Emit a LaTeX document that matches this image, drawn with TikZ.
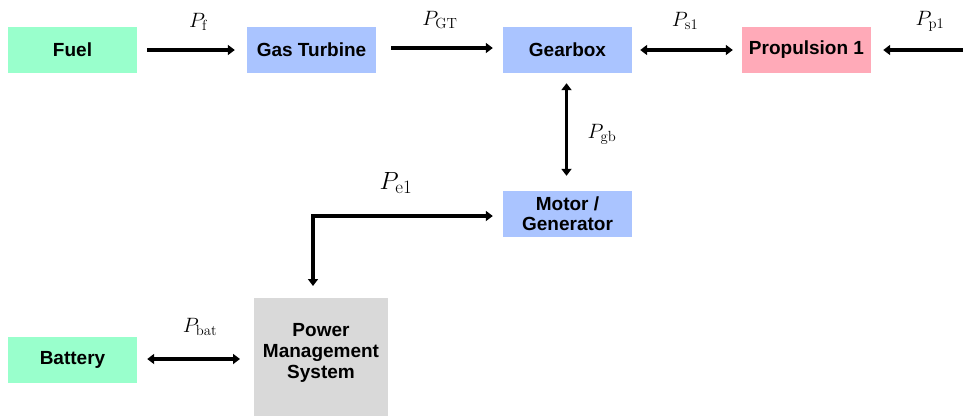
\documentclass[tikz,border=0pt]{standalone}
\usepackage{fontspec}
\setsansfont{Liberation Sans}
\usetikzlibrary{arrows.meta}
\definecolor{mint}{HTML}{99FFCC}
\definecolor{lblue}{HTML}{AAC4FF}
\definecolor{lpink}{HTML}{FFAAB8}
\definecolor{lgray}{HTML}{D9D9D9}
\tikzset{
  blk/.style={minimum width=129pt, minimum height=46pt, inner sep=0pt, font=\sffamily\bfseries\fontsize{19}{21}\selectfont, align=center},
  flow/.style={line width=3.6pt, -{Triangle[length=7pt,width=10pt]}},
  bflow/.style={line width=3.6pt, {Triangle[length=7pt,width=10pt]}-{Triangle[length=7pt,width=10pt]}},
  lbl/.style={font=\fontsize{21}{23}\selectfont, inner sep=0pt}
}
\begin{document}
\begin{tikzpicture}[x=1pt,y=-1pt]
\useasboundingbox (0,0) rectangle (963,416);
\node[blk, fill=mint] (fuel) at (72.5,50) {Fuel};
\node[blk, fill=lblue] (gt) at (311.5,50) {Gas Turbine};
\node[blk, fill=lblue] (gb) at (567.5,50) {Gearbox};
\node[blk, fill=lpink] (prop) at (806.5,50) {Propulsion 1};
\node[blk, fill=lblue] (mg) at (567.5,214) {Motor /\\[-1pt]Generator};
\node[blk, fill=mint] (bat) at (72.5,360) {Battery};
\fill[lgray] (254,298) rectangle (388,416);
\node[blk, minimum width=134pt, minimum height=118pt, anchor=north west] (pms) at (254,298) {};
\node[font=\sffamily\bfseries\fontsize{19}{21}\selectfont, align=center] at (321,353) {Power\\Management\\System};
\coordinate (rin) at (963,50);
\coordinate (corner) at (313,216);

\draw[flow] ([xshift=10pt]fuel.east) -- ([xshift=-12pt]gt.west);
\draw[flow] ([xshift=15pt,yshift=2pt]gt.east) -- ([xshift=-10pt,yshift=2pt]gb.west);
\draw[bflow] ([xshift=8pt]gb.east) -- ([xshift=-9pt]prop.west);
\draw[flow] (rin) -- ([xshift=12pt]prop.east);
\draw[bflow] ([xshift=-1pt,yshift=-10pt]gb.south) -- ([xshift=-1pt,yshift=15pt]mg.north);
\draw[bflow] ([yshift=12pt]pms.north -| corner) |- ([xshift=-10pt,yshift=-2pt]mg.west);
\draw[bflow] ([xshift=10pt,yshift=1pt]bat.east) -- ([xshift=-14pt,yshift=1pt]pms.west |- bat.east);

\node[lbl] (lf) at (198,22) {$P_{\mathrm{f}}$};
\node[lbl] (lgt) at (440,20) {$P_{\mathrm{GT}}$};
\node[lbl] (ls1) at (685,21) {$P_{\mathrm{s1}}$};
\node[lbl] (lp1) at (930,21) {$P_{\mathrm{p1}}$};
\node[lbl] (lgb) at (602,134) {$P_{\mathrm{gb}}$};
\node[lbl, font=\fontsize{27}{29}\selectfont] (le1) at (396,183) {$P_{\mathrm{e1}}$};
\node[lbl] (lbat) at (200,327) {$P_{\mathrm{bat}}$};
\end{tikzpicture}
\end{document}
